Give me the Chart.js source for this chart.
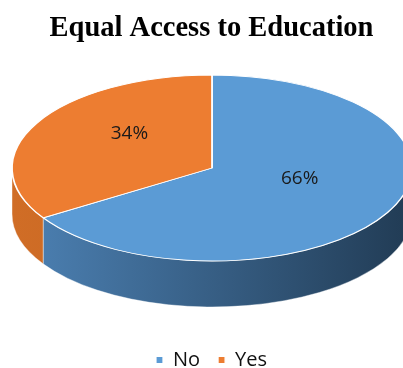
<!DOCTYPE html>
<html>
<head>
<meta charset="utf-8">
<script src="https://cdn.jsdelivr.net/npm/chart.js@4.4.1/dist/chart.umd.min.js"></script>
<style>
  html, body { margin: 0; padding: 0; background: #fff; }
  #wrap { width: 403px; height: 368px; position: relative; }
</style>
</head>
<body>
<div id="wrap"><canvas id="c" width="403" height="368"></canvas></div>
<script>
const categories = ['No', 'Yes'];
const values = [66, 34];
const chartTitle = 'Equal Access to Education';

const topColors = ['#5B9BD5', '#ED7D31'];
const sideColorsL = ['#4d82b5', '#d06d26'];
const sideColorsR = ['#213b54', '#b85c1c'];

// 3D ellipse geometry (style/layout)
const CX = 212, CY = 168, RX = 200, RY = 93, DEPTH = 46;

function clampFront(a1, a2) {
  const TWO = Math.PI * 2;
  const segs = [];
  let s = ((a1 % TWO) + TWO) % TWO;
  let e = s + (a2 - a1);
  [[0, Math.PI], [TWO, TWO + Math.PI]].forEach(([lo, hi]) => {
    const a = Math.max(s, lo), b = Math.min(e, hi);
    if (b > a) segs.push([a, b]);
  });
  return segs;
}

const pie3d = {
  id: 'pie3d',
  beforeDatasetsDraw(chart) {
    const ctx = chart.ctx;
    const meta = chart.getDatasetMeta(0);
    meta.data.forEach((arc, i) => {
      const p = arc.getProps(['startAngle', 'endAngle'], true);
      clampFront(p.startAngle, p.endAngle).forEach(([a, b]) => {
        const g = ctx.createLinearGradient(CX - RX, 0, CX + RX, 0);
        g.addColorStop(0, sideColorsL[i]);
        g.addColorStop(1, sideColorsR[i]);
        ctx.beginPath();
        ctx.ellipse(CX, CY, RX, RY, 0, a, b, false);
        ctx.lineTo(CX + RX * Math.cos(b), CY + RY * Math.sin(b) + DEPTH);
        ctx.ellipse(CX, CY + DEPTH, RX, RY, 0, b, a, true);
        ctx.closePath();
        ctx.fillStyle = g;
        ctx.fill();
        ctx.strokeStyle = 'rgba(255,255,255,0.5)';
        ctx.lineWidth = 0.8;
        ctx.stroke();
      });
    });
    const a0 = meta.data[0];
    const pp = a0.getProps(['x', 'y', 'outerRadius'], true);
    ctx.save();
    ctx.translate(CX, CY);
    ctx.scale(RX / pp.outerRadius, RY / pp.outerRadius);
    ctx.translate(-pp.x, -pp.y);
  },
  afterDatasetsDraw(chart) {
    const ctx = chart.ctx;
    ctx.restore();
    const meta = chart.getDatasetMeta(0);
    const a0 = meta.data[0];
    const pp = a0.getProps(['x', 'y', 'outerRadius'], true);
    const total = values.reduce((s, v) => s + v, 0);
    ctx.save();
    ctx.font = '19px "Open Sans", "Noto Sans", sans-serif';
    ctx.fillStyle = '#1a1a1a';
    ctx.textAlign = 'center';
    ctx.textBaseline = 'middle';
    meta.data.forEach((arc, i) => {
      const t = arc.tooltipPosition(true);
      const x = CX + (t.x - pp.x) * RX / pp.outerRadius + (i === 1 ? 5 : 0);
      const y = CY + (t.y - pp.y) * RY / pp.outerRadius - 12;
      ctx.fillText(Math.round(values[i] / total * 100) + '%', x, y);
    });
    ctx.restore();
  }
};

new Chart(document.getElementById('c'), {
  type: 'pie',
  data: {
    labels: categories,
    datasets: [{
      data: values,
      backgroundColor: topColors,
      borderColor: '#ffffff',
      borderWidth: 1.2
    }]
  },
  options: {
    responsive: false,
    animation: false,
    layout: { padding: { left: 20, right: 0, top: 0, bottom: -12 } },
    plugins: {
      title: {
        display: true,
        text: chartTitle,
        color: '#000',
        font: { family: '"Liberation Serif", "Times New Roman", serif', size: 28.5, weight: 'bold' },
        padding: { top: 12, bottom: 10 }
      },
      legend: {
        position: 'bottom',
        labels: {
          color: '#111',
          boxWidth: 7,
          boxHeight: 7,
          font: { family: '"Open Sans", "Noto Sans", sans-serif', size: 20 },
          padding: 18
        }
      },
      tooltip: { enabled: false }
    }
  },
  plugins: [pie3d]
});
</script>
</body>
</html>
